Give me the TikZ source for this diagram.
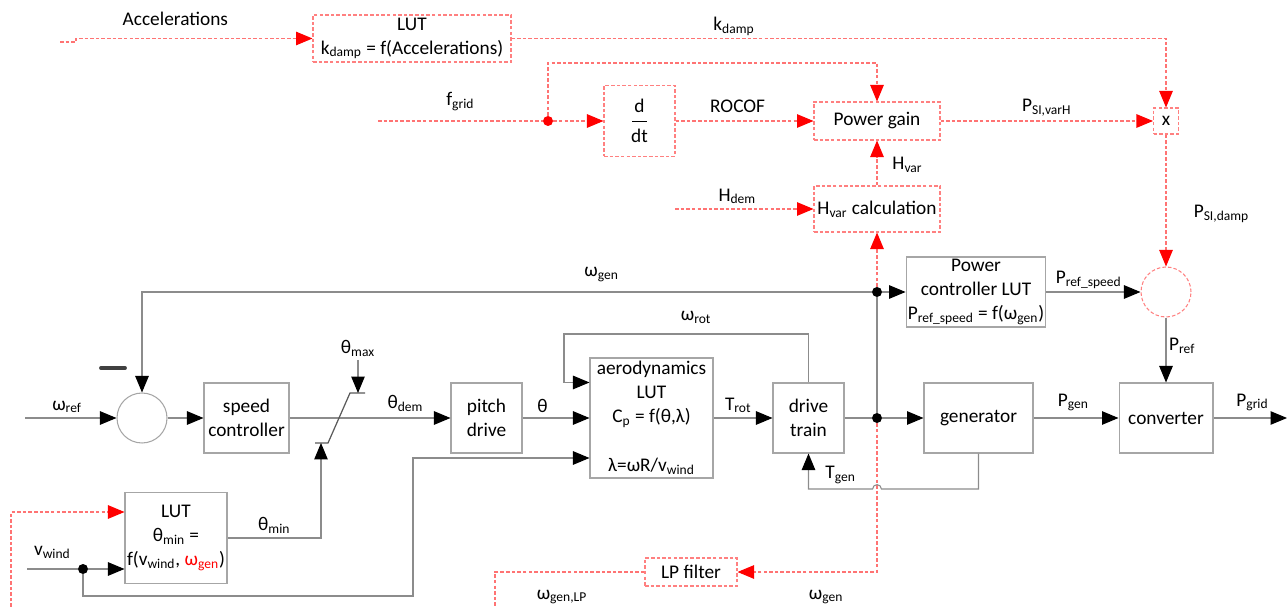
\documentclass[tikz,border=0pt]{standalone}
\usepackage{fontspec}
\setmainfont{Carlito}
\usetikzlibrary{arrows.meta,calc}

\newcommand{\low}[1]{\textsubscript{#1}}

\begin{document}
\begin{tikzpicture}[x=0.02cm,y=-0.02cm,font=\fontsize{11}{13.5}\selectfont,
	blk/.style={draw=black!35,line width=0.6pt,inner sep=1pt,align=center},
	rblk/.style={draw=red!50,line width=0.6pt,dash pattern=on 2pt off 1.2pt,inner sep=1pt,align=center},
	wire/.style={draw=black!45,line width=0.6pt},
	sig/.style={wire,-{Triangle[length=0.33cm,width=0.27cm,color=black]}},
	rwire/.style={draw=red!55,line width=0.6pt,dash pattern=on 2pt off 1.2pt},
	rsig/.style={rwire,-{Triangle[length=0.33cm,width=0.27cm,color=red]}},
	dot/.style={circle,inner sep=0pt,minimum size=0.2cm,fill=#1},
	lbl/.style={inner sep=1.5pt}]
	\useasboundingbox (0,0) rectangle (1287,607);

	% synthetic inertia branch (dashed)
	\node[rblk,minimum width=3.96cm,minimum height=0.94cm] (lutAcc) at (412,38.5) {LUT\\k\low{damp} = f(Accelerations)};
	\node[rblk,minimum width=1.42cm,minimum height=1.42cm] (ddt) at (639.5,121) {d\\[-8.5pt]\rule{8pt}{0.5pt}\\[-1.5pt]dt};
	\node[rblk,minimum width=2.52cm,minimum height=0.76cm] (pgain) at (877,121) {Power gain};
	\node[rblk,minimum width=0.5cm,minimum height=0.52cm,inner sep=0pt] (xmul) at (1166,121) {x};
	\node[rblk,minimum width=2.52cm,minimum height=0.92cm] (hvar) at (877,209) {H\low{var} calculation};
	\node[rblk,circle,minimum size=1cm] (sumR) at (1166,292) {};
	\node[rblk,minimum width=1.84cm,minimum height=0.56cm] (lpf) at (691,572) {LP filter};

	% turbine model
	\node[blk,minimum width=2.72cm,minimum height=1.4cm] (pctrl) at (976,292) {Power\\controller LUT\\P\low{ref\_speed} = f(ω\low{gen})};
	\node[blk,circle,minimum size=1cm] (sumS) at (142,418) {};
	\node[blk,minimum width=1.7cm,minimum height=1.4cm] (speed) at (246.5,418) {speed\\controller};
	\node[blk,minimum width=1.42cm,minimum height=1.4cm] (pitch) at (486.5,418) {pitch\\drive};
	\node[blk,minimum width=2.46cm,minimum height=2.4cm] (aero) at (651.5,418) {aerodynamics\\LUT\\C\low{p} = f(θ,λ)\\[14.5pt]λ=ωR/v\low{wind}};
	\node[blk,minimum width=1.42cm,minimum height=1.4cm] (drive) at (808.5,418) {drive\\train};
	\node[blk,minimum width=2.18cm,minimum height=1.4cm] (gen) at (978.5,418) {generator};
	\node[blk,minimum width=1.88cm,minimum height=1.4cm] (conv) at (1166,418) {converter};
	\node[blk,minimum width=2.04cm,minimum height=1.82cm] (lutMin) at (176,538) {LUT\\θ\low{min} =\\f(v\low{wind}, {\color{red}ω\low{gen}})};

	% branch points
	\node[dot=red] (dotF) at (548,121) {};
	\node[dot=black] (jTop) at (877,292) {};
	\node[dot=black] (jBot) at (877,418) {};
	\node[dot=black] (dotV) at (83,569) {};

	\coordinate (accIn) at (60,42);
	\coordinate (fIn) at (378,121);
	\coordinate (hIn) at (675,209);
	\coordinate (wIn) at (25,418);
	\coordinate (vIn) at (27,569);
	\coordinate (pOut) at (1287,418);
	\coordinate (limLo) at (321,443);
	\coordinate (limHi) at (358,393);
	\coordinate (tmax) at (358,360);
	\coordinate (hop) at (877,489);
	\coordinate (lpOut) at (495,607);
	\coordinate (lpBack) at (11,607);

	% dashed signals
	\draw[rsig] (accIn) -- (76,42) |- node[lbl,above=5.5pt,pos=0.71] {Accelerations} (lutAcc.west);
	\draw[rsig] (lutAcc.east) -| node[lbl,above=0pt,pos=0.17] {k\low{damp}} (xmul.north);
	\draw[rsig] (fIn) -- node[lbl,above=4pt] {f\low{grid}} (dotF) -- (ddt.west);
	\draw[rsig] (dotF) -- ++(0,-58) -| (pgain.north);
	\draw[rsig] (ddt.east) -- node[lbl,above=3pt,pos=0.45] {ROCOF} (pgain.west);
	\draw[rsig] (pgain.east) -- node[lbl,above=1pt,pos=0.5] {P\low{SI,varH}} (xmul.west);
	\draw[rsig] (xmul.south) -- node[lbl,right=14pt,pos=0.6] {P\low{SI,damp}} (sumR.north);
	\draw[rsig] (hvar.north) -- node[lbl,right=7pt,pos=0.46] {H\low{var}} (pgain.south);
	\draw[rsig] (hIn) -- node[lbl,above=1pt,pos=0.45] {H\low{dem}} (hvar.west);
	\draw[rsig] (jTop) -- (hvar.south);
	\draw[rsig] (jBot) |- (lpf.east);
	\draw[rwire] (lpf.west) -| (lpOut);
	\draw[rsig] (lpBack) |- ($(lutMin.west)+(0,-26)$);
	\node (wLP) at (562,597) {ω\low{gen,LP}};
	\node (wGen) at (826,597) {ω\low{gen}};

	% solid signals
	\draw[wire] (jBot) -- (jTop);
	\draw[sig] (jTop) -- node[lbl,above=4pt,pos=0.37] {ω\low{gen}} (sumS.north |- jTop) -- (sumS.north);
	\draw[sig] (jTop) -- (pctrl.west);
	\draw[sig] (pctrl.east) -- node[lbl,above=0pt,pos=0.45] {P\low{ref\_speed}} (sumR.west);
	\draw[sig] (sumR.south) -- node[lbl,right,pos=0.44] {P\low{ref}} (conv.north);
	\draw[sig] (wIn) -- node[lbl,above=1pt,pos=0.46] {ω\low{ref}} (sumS.west);
	\draw[black!75,line width=2.2pt,line cap=round] (101,368) -- (125,368);
	\draw[sig] (sumS.east) -- (speed.west);
	\draw[sig] (speed.east) -- node[lbl,above=2pt,pos=0.72] {θ\low{dem}} (pitch.west);
	\draw[sig] (pitch.east) -- node[lbl,above=1pt,pos=0.3] {θ} (aero.west);
	\draw[sig] (aero.east) -- node[lbl,above=1pt,pos=0.42] {T\low{rot}} (drive.west);
	\draw[sig] (drive.north) |- node[lbl,above=4pt,pos=0.73] {ω\low{rot}} (564,334) |- (aero.west |- drive.north);
	\draw[sig] (drive.east) -- (jBot) -- (gen.west);
	\draw[sig] (gen.east) -- node[lbl,above=2pt,pos=0.47] {P\low{gen}} (conv.west);
	\draw[sig] (conv.east) -- node[lbl,above=2pt,pos=0.53] {P\low{grid}} (pOut);
	\draw[sig] (gen.south) |- ($(hop)+(2.5pt,0pt)$) arc[start angle=0,end angle=180,radius=2.5pt]
		-- node[lbl,above=1pt] {T\low{gen}} (drive.south |- hop) -- (drive.south);

	% pitch limiter
	\draw[black!65,line width=0.7pt] (315,443) -- (328,443) -- (350,393) -- (365,393);
	\draw[sig] (tmax) node[lbl,above] {θ\low{max}} -- (limHi);
	\draw[sig] (lutMin.east) -| node[lbl,above=1pt,pos=0.25] {θ\low{min}} (limLo);

	% wind speed
	\draw[sig] (vIn) -- node[lbl,above=4pt] {v\low{wind}} (dotV) -- (lutMin.west |- dotV);
	\draw[sig] (dotV) |- (413,596) |- ($(aero.west)+(0,40)$);
\end{tikzpicture}
\end{document}
